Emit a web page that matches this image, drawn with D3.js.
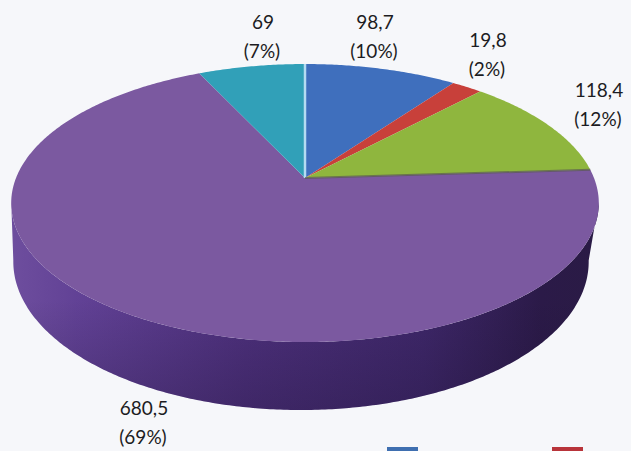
<!DOCTYPE html>
<html>
<head>
<meta charset="utf-8">
<script src="https://cdnjs.cloudflare.com/ajax/libs/d3/7.8.5/d3.min.js"></script>
<style>
  html, body { margin: 0; padding: 0; background: #f6f7fa; }
  svg { display: block; }
  text { font-family: Lato, "Open Sans", sans-serif; fill: #1c1c22; }
</style>
</head>
<body>
<svg id="chart" width="631" height="451"></svg>
<script>
// Slice values, in drawing order clockwise from twelve o'clock
const sliceValues = [98.7, 19.8, 118.4, 680.5, 69];
const sliceShares = ["10%", "2%", "12%", "69%", "7%"];
const sliceValueText = ["98,7", "19,8", "118,4", "680,5", "69"];
const sliceColors = ["#3f6fbd", "#c8403a", "#8fb63e", "#7b59a0", "#31a0b8"];
const labelCenters = [[375, 24], [488, 42], [599, 92], [144, 410], [263, 24]];
const legendColors = ["#3f6fb0", "#b8343a"];
const legendLefts = [387, 552];

const svg = d3.select("#chart");
const defs = svg.append("defs");

// Perspective tilt shared by the pie's top face and its lower rim
const tilt = -0.18;
const topFace = { cx: 305, cy: 178, rx: 289, ry: 134.5 };
const lowFace = { cx: 301, cy: 235, rx: 283, ry: 143.5 };

function project(face, angle, r) {
  const X = r * Math.sin(angle), Y = -r * Math.cos(angle), w = 1 + tilt * Y;
  return [face.cx + face.rx * X / w, face.cy + face.ry * Y / w];
}
const angleSteps = (a0, a1) => {
  const n = Math.max(2, Math.ceil(Math.abs(a1 - a0) / 0.01));
  return d3.range(n + 1).map(i => a0 + (a1 - a0) * i / n);
};
const line = d3.line();

const arcs = d3.pie().sort(null).value(d => d)(sliceValues);

// Side wall shading, dark toward the right
const sideGrad = defs.append("linearGradient").attr("id", "side")
  .attr("gradientUnits", "userSpaceOnUse")
  .attr("x1", 10).attr("x2", 600).attr("y1", 0).attr("y2", 0);
[[0, "#6e4e9e"], [0.12, "#614195"], [0.4, "#4d307c"], [0.7, "#3e2769"], [0.9, "#2b1a48"], [1, "#2a1b45"]]
  .forEach(([o, c]) => sideGrad.append("stop").attr("offset", o).attr("stop-color", c));

// Soft darkening of the wall toward its lower edge
const sideShade = defs.append("linearGradient").attr("id", "sideShade")
  .attr("gradientUnits", "userSpaceOnUse")
  .attr("x1", 0).attr("x2", 0).attr("y1", 300).attr("y2", 412);
[[0, 0], [1, 0.28]].forEach(([o, a]) => sideShade.append("stop")
  .attr("offset", o).attr("stop-color", "#1a1030").attr("stop-opacity", a));

// Wall: spans between the widest points of the two rims, so the outline runs straight down
const wallAngles = angleSteps(Math.PI * 0.555, Math.PI * 1.445);
const wallPath = line([
  ...wallAngles.map(a => project(topFace, a, 1)),
  ...wallAngles.slice().reverse().map(a => project(lowFace, a, 1))
]) + "Z";
svg.append("path").attr("d", wallPath).attr("fill", "url(#side)");
svg.append("path").attr("d", wallPath).attr("fill", "url(#sideShade)");

// Top face slices
svg.append("g").selectAll("path").data(arcs).join("path")
  .attr("d", d => line([
    [topFace.cx, topFace.cy],
    ...angleSteps(d.startAngle, d.endAngle).map(a => project(topFace, a, 1))
  ]) + "Z")
  .attr("fill", (d, i) => sliceColors[i]);

// Pale seam at twelve o'clock and the shadowed seam under the green slice
const seams = svg.append("g").attr("fill", "none");
seams.append("path")
  .attr("d", line([[topFace.cx, topFace.cy], project(topFace, 0, 1)]))
  .attr("stroke", "#b4dcf2").attr("stroke-width", 2.5);
seams.append("path")
  .attr("d", line([[topFace.cx, topFace.cy], project(topFace, arcs[2].endAngle, 1)]))
  .attr("stroke", "#5a5a50").attr("stroke-width", 2).attr("stroke-opacity", 0.7);

// Value and share labels
const labels = svg.append("g").attr("text-anchor", "middle").attr("font-size", 19);
labels.selectAll("text.value").data(sliceValueText).join("text").attr("class", "value")
  .attr("x", (d, i) => labelCenters[i][0]).attr("y", (d, i) => labelCenters[i][1])
  .attr("dominant-baseline", "middle").text(d => d);
labels.selectAll("text.share").data(sliceShares).join("text").attr("class", "share")
  .attr("x", (d, i) => labelCenters[i][0] - 1).attr("y", (d, i) => labelCenters[i][1] + 29)
  .attr("dominant-baseline", "middle").text(d => "(" + d + ")");

// Legend swatches along the lower edge
svg.append("g").selectAll("rect").data(legendColors).join("rect")
  .attr("x", (d, i) => legendLefts[i]).attr("y", 447)
  .attr("width", 31).attr("height", 10).attr("fill", d => d);
</script>
</body>
</html>
